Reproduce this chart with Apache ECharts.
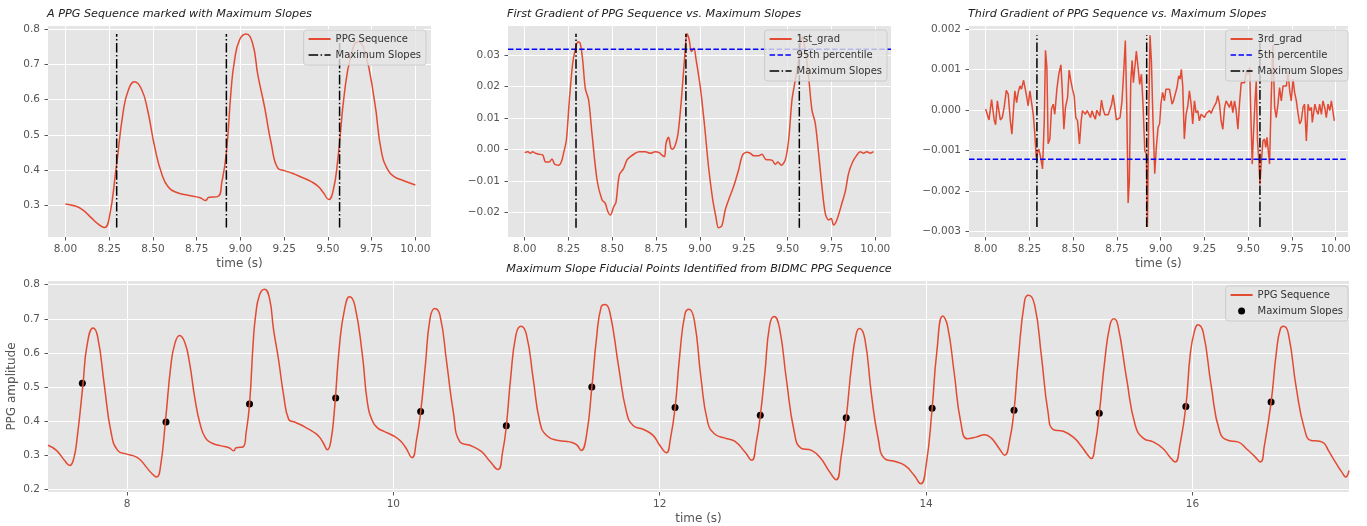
<!DOCTYPE html>
<html>
<head>
<meta charset="utf-8">
<script src="https://cdn.jsdelivr.net/npm/echarts@6/dist/echarts.min.js"></script>
<style>
  html, body { margin: 0; padding: 0; background: #fff; }
  #chart { width: 1367px; height: 526px; }
</style>
</head>
<body>
<div id="chart"></div>
<script>
// PPG sequence (time in s, amplitude)
const ppgT = [7.407, 7.47, 7.53, 7.57, 7.60, 7.625, 7.67, 7.70, 7.745, 7.78, 7.83, 7.88, 7.93,
  8.0, 8.05, 8.095, 8.145, 8.19, 8.223, 8.25, 8.29, 8.33, 8.36, 8.395, 8.435, 8.47, 8.51, 8.55, 8.59, 8.64, 8.70, 8.77, 8.80, 8.82, 8.87, 8.895,
  8.92, 8.947, 8.966, 8.995, 9.033, 9.07, 9.10, 9.138, 9.176, 9.214, 9.252, 9.30, 9.347, 9.40, 9.443, 9.475, 9.505, 9.53, 9.557, 9.595, 9.633, 9.671, 9.71, 9.767,
  9.805, 9.843, 9.881, 9.93, 10.0, 10.05, 10.09, 10.14, 10.175, 10.205, 10.24, 10.275, 10.31, 10.35, 10.40, 10.45, 10.50,
  10.575, 10.66, 10.725, 10.785, 10.82, 10.848, 10.88, 10.92, 10.958, 11.0, 11.05, 11.10, 11.15, 11.24, 11.325, 11.375,
  11.41, 11.45, 11.49, 11.525, 11.56, 11.59, 11.625, 11.69, 11.75, 11.80, 11.875, 11.95, 12.0, 12.05, 12.08, 12.115, 12.15,
  12.19, 12.22, 12.26, 12.31, 12.36, 12.41, 12.49, 12.5625, 12.64, 12.69, 12.725, 12.755, 12.79, 12.825, 12.86, 12.90, 12.95,
  13.01, 13.06, 13.14, 13.21, 13.275, 13.325, 13.36, 13.40, 13.44, 13.475, 13.50, 13.54, 13.59, 13.64, 13.6875, 13.76, 13.84,
  13.91, 13.96, 14.0, 14.045, 14.08, 14.125, 14.16, 14.21, 14.26, 14.31, 14.375, 14.44, 14.49, 14.55, 14.59, 14.625, 14.66,
  14.69, 14.74, 14.77, 14.815, 14.865, 14.915, 14.955, 15.03, 15.105, 15.17, 15.205, 15.24, 15.27, 15.30, 15.34, 15.38,
  15.41, 15.44, 15.505, 15.57, 15.63, 15.705, 15.78, 15.83, 15.87, 15.905, 15.95, 15.985, 16.02, 16.04, 16.08, 16.14, 16.205,
  16.27, 16.34, 16.405, 16.47, 16.51, 16.54, 16.59, 16.63, 16.66, 16.685, 16.72, 16.78, 16.84, 16.89, 16.955, 16.99, 17.02,
  17.08, 17.12, 17.15, 17.175];
const ppgV = [0.329, 0.314, 0.285, 0.270, 0.290, 0.348, 0.509, 0.622, 0.673, 0.647, 0.505, 0.368, 0.314,
  0.303, 0.298, 0.288, 0.265, 0.245, 0.236, 0.262, 0.405, 0.565, 0.628, 0.651, 0.630, 0.570, 0.466, 0.390, 0.350, 0.335, 0.328, 0.321, 0.313, 0.322, 0.324, 0.368,
  0.449, 0.627, 0.710, 0.770, 0.787, 0.760, 0.670, 0.580, 0.476, 0.405, 0.398, 0.390, 0.380, 0.368, 0.354, 0.335, 0.316, 0.340, 0.430, 0.620, 0.727, 0.765, 0.740, 0.595,
  0.455, 0.400, 0.380, 0.370, 0.357, 0.343, 0.324, 0.293, 0.348, 0.427, 0.563, 0.700, 0.730, 0.710, 0.573, 0.427, 0.339,
  0.329, 0.311, 0.282, 0.258, 0.309, 0.385, 0.524, 0.652, 0.678, 0.652, 0.524, 0.397, 0.358, 0.343, 0.339, 0.331,
  0.314, 0.358, 0.498, 0.642, 0.735, 0.742, 0.720, 0.563, 0.427, 0.387, 0.376, 0.358, 0.329, 0.307, 0.348, 0.438, 0.593,
  0.715, 0.728, 0.695, 0.525, 0.397, 0.363, 0.350, 0.341, 0.309, 0.285, 0.339, 0.416, 0.544, 0.681, 0.707, 0.671, 0.525,
  0.368, 0.321, 0.314, 0.290, 0.251, 0.228, 0.290, 0.409, 0.563, 0.656, 0.672, 0.641, 0.476, 0.349, 0.290, 0.282, 0.270,
  0.241, 0.216, 0.270, 0.437, 0.602, 0.708, 0.681, 0.544, 0.397, 0.348, 0.353, 0.360, 0.350, 0.319, 0.300, 0.339, 0.431,
  0.573, 0.754, 0.769, 0.740, 0.593, 0.427, 0.375, 0.370, 0.353, 0.324, 0.305, 0.290, 0.334, 0.422, 0.573, 0.681,
  0.700, 0.681, 0.525, 0.388, 0.350, 0.339, 0.319, 0.295, 0.280, 0.329, 0.442, 0.603, 0.671, 0.683, 0.661, 0.505, 0.368,
  0.343, 0.339, 0.319, 0.295, 0.280, 0.329, 0.455, 0.603, 0.671, 0.678, 0.656, 0.495, 0.378, 0.343, 0.341, 0.334, 0.314,
  0.275, 0.251, 0.236, 0.255];

// maximum slope fiducial points
const slopeT = [7.665, 8.293, 8.92, 9.567, 10.205, 10.848, 11.49, 12.115, 12.755, 13.40, 14.045, 14.66, 15.30, 15.95, 16.59];
const slopeV = [0.511, 0.397, 0.450, 0.468, 0.428, 0.386, 0.500, 0.440, 0.417, 0.410, 0.438, 0.432, 0.423, 0.443, 0.456];

// first gradient, 8-10 s
const grad1T = [8.0, 8.019, 8.032, 8.046, 8.061, 8.08, 8.103, 8.12, 8.14, 8.156, 8.171, 8.194, 8.209, 8.222, 8.238, 8.255,
  8.274, 8.289, 8.304, 8.317, 8.331, 8.346, 8.365, 8.384, 8.413, 8.441, 8.46, 8.475, 8.489, 8.508, 8.521, 8.54, 8.565, 8.584,
  8.603, 8.631, 8.654, 8.688, 8.717, 8.745, 8.768, 8.783, 8.798, 8.806, 8.821, 8.835, 8.844, 8.859, 8.875, 8.894, 8.913,
  8.926, 8.939, 8.951, 8.966, 8.977, 9.002, 9.027, 9.049, 9.072, 9.091, 9.106, 9.125, 9.144, 9.163, 9.192, 9.22, 9.243,
  9.268, 9.287, 9.306, 9.335, 9.354, 9.376, 9.411, 9.43, 9.445, 9.464, 9.487, 9.506, 9.525, 9.544, 9.563, 9.582, 9.601,
  9.62, 9.639, 9.658, 9.677, 9.696, 9.715, 9.734, 9.749, 9.762, 9.781, 9.81, 9.829, 9.848, 9.871, 9.895, 9.914, 9.933,
  9.952, 9.971, 9.99];
const grad1V = [-0.0010, -0.0007, -0.0012, -0.0007, -0.0012, -0.0015, -0.0018, -0.0040, -0.0040, -0.0030, -0.0047, -0.0050,
  -0.0040, -0.0012, 0.0030, 0.0157, 0.0273, 0.0318, 0.0342, 0.0337, 0.0284, 0.0194, 0.0157, 0.0051, -0.0097, -0.0160,
  -0.0171, -0.0198, -0.0208, -0.0182, -0.0168, -0.0081, -0.0060, -0.0033, -0.0023, -0.0012, -0.0007, -0.0007, -0.0012,
  -0.0007, -0.0010, -0.0018, -0.0023, 0.0018, 0.0039, 0.0003, 0.0001, 0.0013, 0.0050, 0.0157, 0.0295, 0.0367, 0.0348,
  0.0311, 0.0321, 0.0289, 0.0199, 0.0072, -0.0055, -0.0156, -0.0214, -0.0249, -0.0242, -0.0193, -0.0161, -0.0118,
  -0.0066, -0.0018, -0.0009, -0.0012, -0.0020, -0.0020, -0.0015, -0.0032, -0.0034, -0.0047, -0.0040, -0.0050, -0.0033,
  0.0030, 0.0157, 0.0220, 0.0284, 0.0358, 0.0316, 0.0231, 0.0125, 0.0083, -0.0012, -0.0118, -0.0203, -0.0224, -0.0219,
  -0.0240, -0.0224, -0.0171, -0.0134, -0.0076, -0.0040, -0.0018, -0.0007, -0.0012, -0.0007, -0.0012, -0.0007];

// third gradient, 8-10 s (values in units of 1e-3)
const grad3T = [8.0, 8.011, 8.019, 8.027, 8.034, 8.042, 8.049, 8.057, 8.067, 8.072, 8.084, 8.095, 8.106, 8.118, 8.129,
  8.141, 8.15, 8.16, 8.167, 8.177, 8.186, 8.196, 8.205, 8.217, 8.224, 8.234, 8.243, 8.253, 8.262, 8.272, 8.281, 8.289,
  8.297, 8.304, 8.314, 8.325, 8.335, 8.342, 8.35, 8.357, 8.367, 8.376, 8.386, 8.395, 8.407, 8.418, 8.43, 8.437, 8.447,
  8.456, 8.468, 8.477, 8.487, 8.496, 8.506, 8.515, 8.525, 8.536, 8.546, 8.553, 8.563, 8.57, 8.58, 8.589, 8.599, 8.608,
  8.618, 8.627, 8.635, 8.643, 8.652, 8.662, 8.671, 8.681, 8.69, 8.7, 8.711, 8.72, 8.728, 8.738, 8.747, 8.757, 8.768,
  8.779, 8.789, 8.798, 8.806, 8.814, 8.821, 8.829, 8.837, 8.844, 8.852, 8.861, 8.871, 8.88, 8.89, 8.899, 8.909, 8.918,
  8.924, 8.932, 8.939, 8.947, 8.956, 8.966, 8.975, 8.985, 8.994,
  9.002, 9.011, 9.021, 9.03, 9.04, 9.05, 9.06, 9.065, 9.073, 9.084, 9.093, 9.103, 9.111, 9.118, 9.126, 9.135, 9.145,
  9.155, 9.164, 9.174, 9.183, 9.193, 9.202, 9.212, 9.221, 9.231, 9.24, 9.25, 9.26, 9.269, 9.279, 9.288, 9.298, 9.307,
  9.317, 9.326, 9.336, 9.345, 9.355, 9.365, 9.374, 9.384, 9.393, 9.403, 9.412, 9.422, 9.431, 9.441, 9.45, 9.46, 9.469,
  9.479, 9.489, 9.498, 9.508, 9.517, 9.523, 9.53, 9.538, 9.546, 9.553, 9.561, 9.567, 9.574, 9.584, 9.593, 9.6, 9.607,
  9.614, 9.622, 9.632, 9.641, 9.651, 9.66, 9.67, 9.679, 9.689, 9.699, 9.708, 9.718, 9.727, 9.737, 9.746, 9.756, 9.765,
  9.775, 9.784, 9.794, 9.803, 9.813, 9.822, 9.832, 9.842, 9.851, 9.861, 9.866, 9.874, 9.881, 9.89, 9.899, 9.908, 9.918,
  9.927, 9.937, 9.946, 9.956, 9.966, 9.975, 9.985, 9.992];
const grad3V = [0.02, -0.01, -0.25, -0.25, 0.25, 0.25, -0.25, -0.37, 0.22, 0.25, -0.25, -0.19, 0.06, 0.48, 0.39,
  -0.27, -0.6, 0.06, 0.47, 0.18, 0.43, 0.59, 0.51, 0.73, 0.71, 0.34, 0.1, 0.47, 0.48, -0.11, -0.6, -1.17,
  -1.05, -0.97, -1.17, -1.46, -0.27, 1.47, 1.04, -0.84, -0.72, 0.02, 0.14, -0.11, 0.51, 0.88, 1.11, 0.55, -0.48,
  0.06, 0.3, 0.98, 0.71, 0.51, 0.34, -0.19, -0.27, -0.84, -0.27, -0.02, 0.02, -0.11, -0.02, 0.02, -0.19, -0.02,
  -0.15, -0.23, -0.01, -0.02, -0.15, 0.24, 0.02, -0.12, -0.12, -0.12, 0.02, 0.14, 0.37, 0.06, -0.25, -0.25, -0.19,
  0.22, 0.96, 1.71, 0.14, -2.3, -1.75, 0.71, 1.22, 0.67, 1.04, 1.45, 1.04, 0.63, 0.88, 0.14, -1.01, -1.09,
  -2.89, -0.11, 1.84, 1.2, -0.27, -1.58, -0.93, -0.43, -0.35,
  0.18, 0.43, 0.22, 0.51, 0.47, 0.51, 0.49, 0.14, 0.22, 0.22, 0.55, 0.84, 0.76, 1.0, 0.59, -0.72, -0.11,
  0.1, 0.47, 0.14, -0.35, 0.22, -0.07, -0.02, -0.27, -0.11, -0.15, -0.19, -0.09, -0.12, -0.02, -0.09, 0.02, 0.1,
  0.18, 0.35, 0.14, -0.27, -0.48, 0.06, 0.22, 0.26, 0.06, 0.22, -0.07, 0.22, -0.02, -0.48, 0.14, 0.67, 0.65,
  0.67, 0.96, 0.88, 1.05, -0.44, -1.34, -0.6, 0.14, 0.72, -0.77, -1.26, -1.84, -1.34, -0.77, -0.72, -0.93, -0.68,
  -0.72, -1.34, 0.39, 1.6, 0.06, -0.19, 0.14, 0.55, 0.22, 0.59, 0.55, 0.59, 0.96, 0.47, 0.22, 0.76, 0.43,
  0.22, -0.07, -0.35, -0.27, 0.06, 0.14, -0.77, 0.14, -0.02, 0.06, -0.31, -0.27, 0.14, -0.02, -0.11, 0.14, -0.11,
  0.22, 0.06, -0.19, 0.14, -0.02, 0.22, 0.22, -0.27];

const pct95 = 0.0318;    // 95th percentile of first gradient
const pct5 = -0.00122;   // 5th percentile of third gradient

const zoomTicks = [8, 8.25, 8.5, 8.75, 9, 9.25, 9.5, 9.75, 10];
const fullTicks = [8, 10, 12, 14, 16];
const ppgTicks = [0.3, 0.4, 0.5, 0.6, 0.7, 0.8];
const ppgTicksFull = [0.2, 0.3, 0.4, 0.5, 0.6, 0.7, 0.8];
const grad1Ticks = [-0.02, -0.01, 0, 0.01, 0.02, 0.03];
const grad3Ticks = [-0.003, -0.002, -0.001, 0, 0.001, 0.002];

const FONT = 'DejaVu Sans';
const RED = '#E24A33';
const DASHDOT = [9.6, 2.4, 1.5, 2.4];
const DASHED = [5.5, 2.4];

const zip = (a, b) => a.map((t, i) => [t, b[i]]);
const inWin = t => t >= 8 && t <= 10;
const minus = s => s.replace('-', '\u2212');

const ppgWin = zip(ppgT, ppgV).filter(p => inWin(p[0]));
const slopeWin = slopeT.filter(inWin);
const grad1 = zip(grad1T, grad1V);
const grad3 = zip(grad3T, grad3V.map(v => v / 1000));

const xRanges = [[7.9005, 10.0895], [7.905, 10.09], [7.905, 10.07], [7.407, 17.175]];
const yRanges = [[0.209, 0.81], [-0.0278, 0.0392], [-0.00314, 0.00207], [0.192, 0.811]];

function xAxis(gi, ticks, fmt, name) {
  return {
    type: 'value', gridIndex: gi, min: xRanges[gi][0], max: xRanges[gi][1],
    axisLine: { show: false, onZero: false },
    axisTick: { show: true, length: 3.5, lineStyle: { color: '#555' }, customValues: ticks },
    axisLabel: { customValues: ticks, formatter: fmt, color: '#555', fontSize: 10.5, fontFamily: FONT, margin: 7 },
    splitLine: { show: true, lineStyle: { color: '#fff', width: 1 } },
    name: name, nameLocation: 'middle', nameGap: 21,
    nameTextStyle: { color: '#555', fontSize: 12, fontFamily: FONT }
  };
}
function yAxis(gi, ticks, fmt, name) {
  return {
    type: 'value', gridIndex: gi, min: yRanges[gi][0], max: yRanges[gi][1],
    axisLine: { show: false, onZero: false },
    axisTick: { show: true, length: 3.5, lineStyle: { color: '#555' }, customValues: ticks },
    axisLabel: { customValues: ticks, formatter: fmt, color: '#555', fontSize: 10.5, fontFamily: FONT, margin: 8 },
    splitLine: { show: true, lineStyle: { color: '#fff', width: 1 } },
    name: name || '', nameLocation: 'middle', nameGap: 30, nameRotate: 90, nameMoveOverlap: false,
    nameTextStyle: { color: '#555', fontSize: 12, fontFamily: FONT }
  };
}
function vlines(gi, times, lo, hi) {
  return times.map(t => ({
    type: 'line', name: 'Maximum Slopes', xAxisIndex: gi, yAxisIndex: gi,
    data: [[t, lo], [t, hi]], symbol: 'none',
    lineStyle: { color: '#000', width: 1.5, type: DASHDOT }, itemStyle: { color: '#000' }
  }));
}
function hline(gi, name, val) {
  return {
    type: 'line', name: name, xAxisIndex: gi, yAxisIndex: gi,
    data: [[xRanges[gi][0], val], [xRanges[gi][1], val]], symbol: 'none',
    lineStyle: { color: '#0000ff', width: 1.5, type: DASHED }, itemStyle: { color: '#0000ff' }
  };
}
function redLine(gi, name, data, smooth) {
  return {
    type: 'line', name: name, xAxisIndex: gi, yAxisIndex: gi, data: data,
    symbol: 'none', smooth: smooth,
    lineStyle: { color: RED, width: 1.5 }, itemStyle: { color: RED }
  };
}
function legend(right, top, items) {
  return {
    orient: 'vertical', right: right, top: top, padding: [4, 5, 5, 4],
    itemWidth: 22, itemHeight: 7, itemGap: 6,
    backgroundColor: 'rgba(229,229,229,0.8)', borderColor: '#cccccc', borderWidth: 1, borderRadius: 3,
    textStyle: { fontSize: 10, color: '#333', fontFamily: FONT },
    formatter: n => n.replace(/#.*$/, ''),
    selectedMode: false, data: items
  };
}
const lineItem = name => ({ name: name, itemStyle: { opacity: 0 } });
const dashItem = (name, type, color) => ({ name: name, itemStyle: { opacity: 0 }, lineStyle: { type: type, color: color, width: 1.5 } });

const titleStyle = { fontSize: 11.2, fontStyle: 'italic', fontWeight: 'normal', color: '#222', fontFamily: FONT };

const chart = echarts.init(document.getElementById('chart'), null, { renderer: 'canvas' });
chart.setOption({
  animation: false,
  backgroundColor: '#fff',
  title: [
    { text: 'A PPG Sequence marked with Maximum Slopes', left: 47, top: 9, padding: 0, textStyle: titleStyle },
    { text: 'First Gradient of PPG Sequence vs. Maximum Slopes', left: 507, top: 9, padding: 0, textStyle: titleStyle },
    { text: 'Third Gradient of PPG Sequence vs. Maximum Slopes', left: 968, top: 9, padding: 0, textStyle: titleStyle },
    { text: 'Maximum Slope Fiducial Points Identified from BIDMC PPG Sequence', left: 699, textAlign: 'center', top: 264, padding: 0, textStyle: titleStyle }
  ],
  grid: [
    { left: 48, top: 26, width: 383, height: 211 },
    { left: 508, top: 26, width: 383, height: 211 },
    { left: 969, top: 26, width: 379, height: 211 },
    { left: 48, top: 281, width: 1301, height: 211 }
  ].map(g => Object.assign(g, { show: true, backgroundColor: '#E5E5E5', borderWidth: 0, containLabel: false, outerBoundsMode: 'none' })),
  xAxis: [
    xAxis(0, zoomTicks, v => v.toFixed(2), 'time (s)'),
    xAxis(1, zoomTicks, v => v.toFixed(2), ''),
    xAxis(2, zoomTicks, v => v.toFixed(2), 'time (s)'),
    xAxis(3, fullTicks, v => String(v), 'time (s)')
  ],
  yAxis: [
    yAxis(0, ppgTicks, v => v.toFixed(1)),
    yAxis(1, grad1Ticks, v => minus(v.toFixed(2))),
    yAxis(2, grad3Ticks, v => minus(v.toFixed(3))),
    yAxis(3, ppgTicksFull, v => v.toFixed(1), 'PPG amplitude')
  ],
  legend: [
    legend(941, 30, [lineItem('PPG Sequence'), dashItem('Maximum Slopes', DASHDOT, '#000')]),
    legend(480, 30, [lineItem('1st_grad'), dashItem('95th percentile', DASHED, '#0000ff'), dashItem('Maximum Slopes', DASHDOT, '#000')]),
    legend(19, 30, [lineItem('3rd_grad'), dashItem('5th percentile', DASHED, '#0000ff'), dashItem('Maximum Slopes', DASHDOT, '#000')]),
    legend(19, 286, [lineItem('PPG Sequence'), { name: 'Maximum Slopes#dots', icon: 'circle' }])
  ],
  series: [
    redLine(0, 'PPG Sequence', ppgWin, 0.5),
    ...vlines(0, slopeWin, Math.min(...ppgWin.map(p => p[1])), Math.max(...ppgWin.map(p => p[1]))),
    redLine(1, '1st_grad', grad1, 0.3),
    hline(1, '95th percentile', pct95),
    ...vlines(1, slopeWin, Math.min(...grad1V), Math.max(...grad1V)),
    redLine(2, '3rd_grad', grad3, false),
    hline(2, '5th percentile', pct5),
    ...vlines(2, slopeWin, Math.min(...grad3.map(p => p[1])), Math.max(...grad3.map(p => p[1]))),
    redLine(3, 'PPG Sequence', zip(ppgT, ppgV), 0.5),
    {
      type: 'scatter', name: 'Maximum Slopes#dots', xAxisIndex: 3, yAxisIndex: 3,
      data: zip(slopeT, slopeV), symbol: 'circle', symbolSize: 7,
      itemStyle: { color: '#000', opacity: 1 }
    }
  ]
});
</script>
</body>
</html>
